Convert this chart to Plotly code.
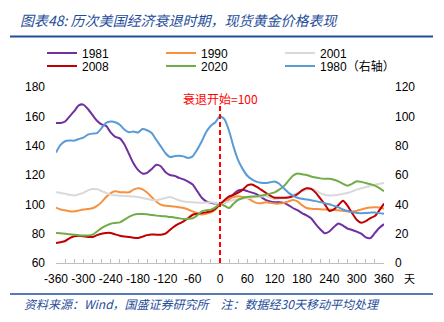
import plotly.graph_objects as go

days = list(range(-360, 361, 10))

s1981 = [155.5, 155.5, 156.5, 160, 163.5, 167.5, 168, 165, 161, 157, 154.5, 153.5, 149, 146, 145, 141, 134.5, 128, 123.5, 121,
         121.5, 124, 127, 126, 122, 120, 119.5, 118, 117, 115.5, 113.5, 109, 104.5, 102, 101, 100.5, 100,
         101, 103.5, 107, 109.5, 110, 109, 108, 107, 105, 103, 102, 101.5, 101.5, 101, 99.5, 97.5, 96, 94, 92.5,
         90.5, 86.5, 83, 80.3, 81.5, 84.5, 87, 85.5, 83.5, 82.5, 81.4, 80, 77.5, 77, 80.5, 84, 86.5]
s1990 = [97.7, 96.5, 95.9, 95.3, 95.2, 95.8, 96.4, 96.8, 97.3, 99, 101.5, 105, 107.7, 109, 108.3, 108.2, 108.2, 110, 110.9, 110.2,
         108, 105, 102, 99.8, 99, 98.8, 98.6, 98, 97.5, 96.5, 95.2, 93.8, 93, 93.5, 94.5, 96.5, 100,
         102, 103.6, 105, 105.5, 105, 104.3, 102.5, 101, 100.8, 101.4, 101, 100.5, 100.5, 101, 102, 103, 102, 99.5, 97.5,
         97, 96.8, 96.7, 96.5, 96.3, 96.2, 96, 95.6, 95.2, 95.1, 95.5, 96.5, 97.3, 97.8, 98, 97.8, 97]
s2001 = [108.2, 107.8, 107.3, 106.5, 106, 106.8, 107.8, 109.5, 110.4, 110.4, 109, 107.8, 106.6, 106.2, 105.9, 105.7, 105.5, 105.3, 105, 104.3,
         103.6, 103, 102.7, 103.5, 104.3, 105, 104, 102.8, 102, 101.6, 101.4, 101.2, 101, 101.2, 101.4, 100.8, 100,
         101, 102, 103, 103.6, 104, 104.3, 104.7, 105, 105.3, 105.5, 104.5, 103.6, 104, 104.3, 105.3, 106.6, 107.8, 108.9, 110,
         111, 109.5, 107.7, 106.5, 106, 106.2, 106.6, 107.2, 107.7, 108.8, 110, 111, 111.8, 112.6, 113.4, 114, 114.5]
s2008 = [73.6, 74.2, 75, 77, 78.2, 78.5, 78.2, 77.8, 77.7, 79, 80, 80.5, 80.5, 79.5, 78.6, 78, 77.7, 77.2, 77, 78,
         79, 79.5, 79.3, 79.3, 80, 82.5, 85, 86.8, 88.4, 90.5, 92.9, 93.6, 94, 94.6, 95.2, 97, 100,
         103, 105.5, 106.5, 108, 110, 113, 113.5, 112, 110, 108, 106, 104.5, 104.5, 104.5, 104.7, 105.5, 107, 109.5, 111,
         110.5, 108, 104, 100, 95.5, 96.5, 99.5, 102.4, 99, 94, 89.5, 87.4, 88.5, 90.6, 92, 96, 100.5]
s2020 = [80.5, 80.3, 80, 79.6, 79.3, 79, 78.8, 78.8, 79.3, 81.5, 83.8, 85.5, 86.8, 87.3, 87.7, 89.5, 91.4, 92.8, 93.4, 93.4,
         93.2, 92.7, 92.3, 92, 91.8, 91.4, 91.1, 90.5, 90, 90.2, 90.5, 92.5, 95.2, 96, 96.4, 98, 100,
         99, 97.5, 100.5, 103, 104.3, 105, 105.3, 105.5, 106, 106.6, 107.3, 108.2, 110, 112.3, 116, 119.5, 121, 120.5, 120,
         119, 118.3, 117.7, 117.5, 117.5, 116.8, 115.7, 114, 112.7, 114, 115.7, 115.3, 114.5, 113.8, 112.7, 111, 108.9]
s1980 = [75.4, 80.5, 83, 83.5, 83.4, 84.5, 85.5, 87.5, 88.2, 88.6, 92, 95.5, 96.4, 96, 94.3, 91, 89.2, 89.6, 89, 91.4,
         90.5, 88.6, 84, 79.5, 75, 72.3, 72.8, 73.2, 72.7, 71.6, 72.7, 77.3, 83, 89.5, 93.6, 96, 100,
         98, 90, 79, 70, 64, 59.5, 57, 55.5, 54.7, 54.5, 55, 55.5, 54, 51, 48, 46, 44.5, 43.8, 43.3,
         42.8, 42.2, 41.5, 40.8, 40, 39, 38, 36.5, 35.5, 34.7, 34.1, 34, 34.1, 34.3, 34.5, 34, 33.6]

names = ["1981", "1990", "2001", "2008", "2020", "1980（右轴）"]
colors = ["#7030A0", "#F7913D", "#D9D9D9", "#C00000", "#70AD47", "#5B9BD5"]
legends = ["legend", "legend", "legend", "legend2", "legend2", "legend2"]
series = [s1981, s1990, s2001, s2008, s2020, s1980]
axes = ["y", "y", "y", "y", "y", "y2"]

xticks = [-360, -300, -240, -180, -120, -60, 0, 60, 120, 180, 240, 300, 360]
xtick_labels = ["-360", "-300", "-240", "-180", "-120", "-60", "0", "60", "120", "180", "240", "300", "360"]
yticks_left = [60, 80, 100, 120, 140, 160, 180]
yticks_right = [0, 20, 40, 60, 80, 100, 120]

TICKFONT = dict(family="Liberation Sans, Arial, sans-serif", size=12, color="#000000")
CJK = "Noto Sans CJK SC"
BLUE = "#1F4E9A"
LEGFONT = dict(family="Liberation Sans, Noto Sans CJK SC, sans-serif", size=12, color="#000000")

fig = go.Figure()
for name, col, lg, s, ax in zip(names, colors, legends, series, axes):
    fig.add_trace(go.Scatter(
        x=days, y=s, name=name, mode="lines", yaxis=ax, legend=lg,
        line=dict(color=col, width=2, shape="spline", smoothing=0.6),
        hoverinfo="skip",
    ))

fig.update_layout(
    width=444, height=322,
    margin=dict(l=56, r=60, t=87, b=59),
    paper_bgcolor="white", plot_bgcolor="white",
    font=dict(family=f"Liberation Sans, {CJK}, sans-serif", size=12, color="#000000"),
    title=dict(
        text="图表48: 历次美国经济衰退时期，现货黄金价格表现",
        x=20 / 444, xref="container", xanchor="left",
        y=1 - 21 / 322, yref="container", yanchor="middle",
        font=dict(family=f"{CJK}", size=14, color=BLUE, style="italic"),
    ),
    xaxis=dict(
        range=[-360, 360], tickvals=xticks, ticktext=xtick_labels, ticks="inside", ticklen=4,
        tickcolor="#BFBFBF", showline=True, linecolor="#BFBFBF", linewidth=1, showgrid=False,
        zeroline=False, tickfont=TICKFONT, ticklabelstandoff=5, tickangle=0,
        minor=dict(dtick=20, tick0=-360, ticks="inside", ticklen=4, tickcolor="#BFBFBF", showgrid=False),
    ),
    yaxis=dict(
        range=[60, 180], tickvals=yticks_left, showline=False, showgrid=False, zeroline=False,
        ticks="", tickfont=TICKFONT, ticklabelstandoff=10,
    ),
    yaxis2=dict(
        range=[0, 120], tickvals=yticks_right, overlaying="y", side="right", showline=False,
        showgrid=False, zeroline=False, ticks="", tickfont=TICKFONT, ticklabelstandoff=10,
    ),
    legend=dict(
        orientation="h", x=-14 / 328, xanchor="left", y=(263 - 53) / 176, yanchor="middle",
        entrywidth=74, entrywidthmode="pixels", bgcolor="rgba(0,0,0,0)", font=LEGFONT,
        itemclick=False, itemdoubleclick=False,
    ),
    legend2=dict(
        orientation="h", x=-14 / 328, xanchor="left", y=(263 - 66) / 176, yanchor="middle",
        entrywidth=74, entrywidthmode="pixels", bgcolor="rgba(0,0,0,0)", font=LEGFONT,
        itemclick=False, itemdoubleclick=False,
    ),
    showlegend=True,
)

# recession start marker
fig.add_shape(type="line", xref="x", yref="y", x0=0, x1=0, y0=60, y1=167,
              line=dict(color="#FF0000", width=2, dash="5px,3px"))
fig.add_annotation(x=0, y=172, xref="x", yref="y", text="衰退开始=100", showarrow=False,
                   xanchor="center", yanchor="middle",
                   font=dict(family=CJK, size=12, color="#FF0000"))

# unit label for x axis
fig.add_annotation(x=(402 - 56) / 328, y=(263 - 278) / 176, xref="paper", yref="paper", text="天",
                   showarrow=False, xanchor="left", yanchor="middle",
                   font=dict(family=CJK, size=11, color="#000000"))

# header and footer rules
fig.add_shape(type="line", xref="paper", yref="paper", x0=(10 - 56) / 328, x1=(433 - 56) / 328,
              y0=(263 - 36.5) / 176, y1=(263 - 36.5) / 176, line=dict(color=BLUE, width=2))
fig.add_shape(type="line", xref="paper", yref="paper", x0=(10 - 56) / 328, x1=(433 - 56) / 328,
              y0=(263 - 294) / 176, y1=(263 - 294) / 176, line=dict(color=BLUE, width=1.5))

fig.add_annotation(x=(22 - 56) / 328, y=(263 - 303) / 176, xref="paper", yref="paper",
                   text="资料来源：Wind，国盛证券研究所　注：数据经30天移动平均处理",
                   showarrow=False, xanchor="left", yanchor="middle",
                   font=dict(family=CJK, size=12, color=BLUE, style="italic"))

fig.write_html("out.html")
